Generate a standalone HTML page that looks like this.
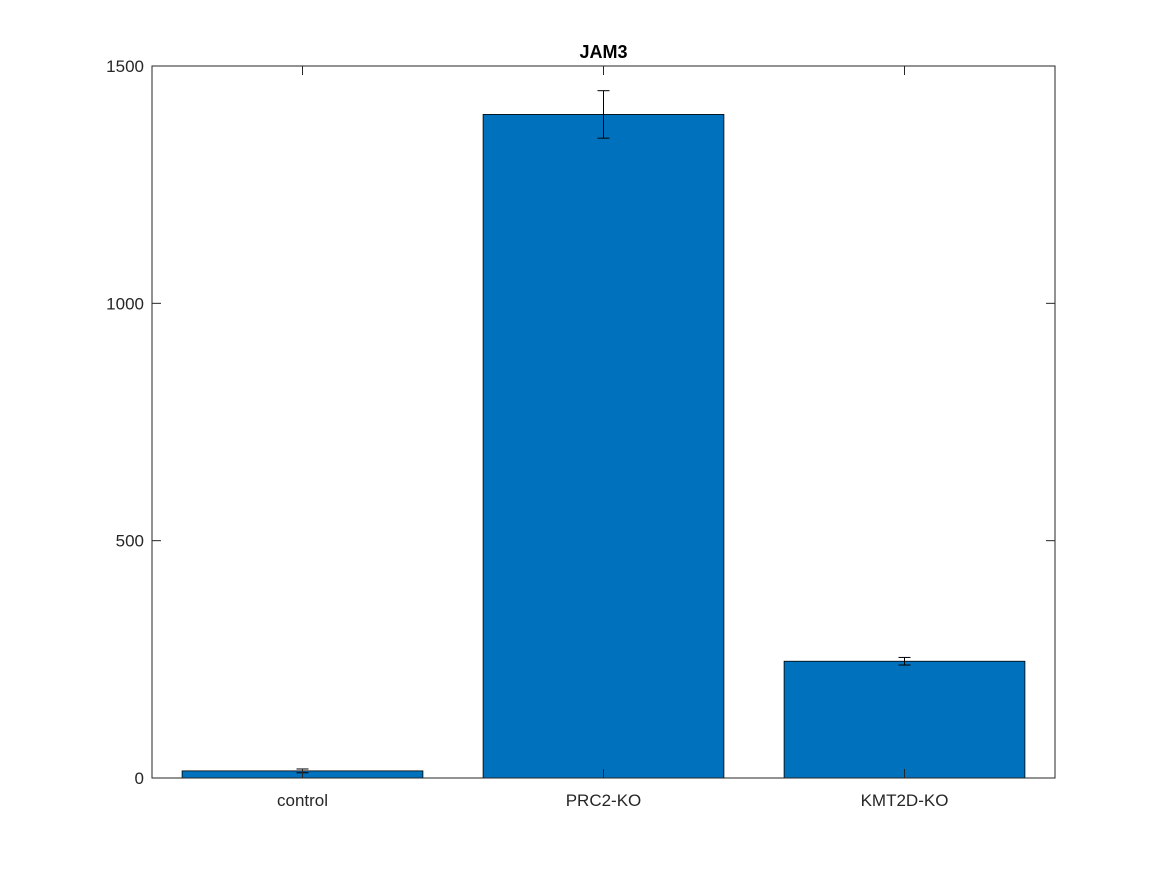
<!DOCTYPE html>
<html><head><meta charset="utf-8"><style>
body{margin:0;background:#fff}
svg text{font-family:"Liberation Sans",Arial,sans-serif}
</style></head><body>
<svg id="chart" width="1167" height="875" xmlns="http://www.w3.org/2000/svg">
<rect width="1167" height="875" fill="#fff"/>
<g id="plot"></g>
</svg>
<script>
const categories = ["control", "PRC2-KO", "KMT2D-KO"];
const values = [15, 1398, 246];
const errors = [4, 50, 8];
const yTicks = [0, 500, 1000, 1500];
const title = "JAM3";

const L=152,R=1055,T=66,B=778,yMax=1500;
const ns="http://www.w3.org/2000/svg";
const g=document.getElementById('plot');
const band=(R-L)/categories.length;
const xC=i=>L+band*(i+0.5);
const y=v=>B-(v/yMax)*(B-T);
const barW=band*0.8;
function mk(tag,attrs,parent){const e=document.createElementNS(ns,tag);for(const k in attrs)e.setAttribute(k,attrs[k]);(parent||g).appendChild(e);return e;}

categories.forEach((c,i)=>{
  const b=mk('rect',{x:xC(i)-barW/2,y:y(values[i]),width:barW,height:B-y(values[i]),fill:'#0072BD',stroke:'#000','stroke-width':0.8});
  
  
  const eg=mk('g',{stroke:'#000','stroke-width':1});
  
  
  const hi=y(values[i]+errors[i]),lo=y(values[i]-errors[i]),x=xC(i);
  mk('line',{x1:x,x2:x,y1:hi,y2:lo},eg);
  mk('line',{x1:x-6,x2:x+6,y1:hi,y2:hi},eg);
  mk('line',{x1:x-6,x2:x+6,y1:lo,y2:lo},eg);
  const t=mk('text',{x:x,y:806,'text-anchor':'middle','font-size':17,fill:'#262626'});
  t.textContent=c;
  
  
  mk('line',{x1:x,x2:x,y1:B,y2:B-9,stroke:'#262626'});
  mk('line',{x1:x,x2:x,y1:T,y2:T+9,stroke:'#262626'});
});
yTicks.forEach(v=>{
  const yy=y(v);
  mk('line',{x1:L,x2:L+9,y1:yy,y2:yy,stroke:'#262626'});
  mk('line',{x1:R,x2:R-9,y1:yy,y2:yy,stroke:'#262626'});
  const t=mk('text',{x:L-8,y:yy+6,'text-anchor':'end','font-size':17,fill:'#262626'});
  t.textContent=v;
  
  
});
const box=mk('rect',{x:L,y:T,width:R-L,height:B-T,fill:'none',stroke:'#262626','stroke-width':1});


const tt=mk('text',{x:(L+R)/2,y:58,'text-anchor':'middle','font-size':18,'font-weight':'bold',fill:'#000'});
tt.textContent=title;


</script>
</body></html>
